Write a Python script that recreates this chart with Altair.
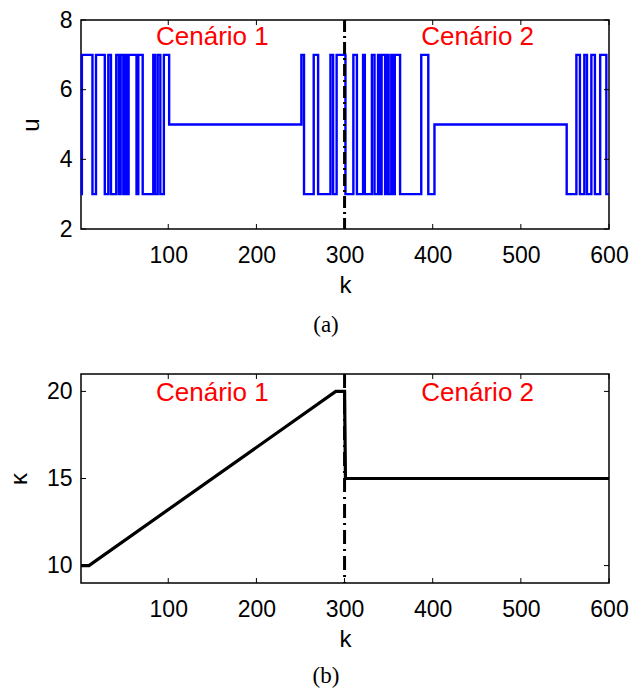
import altair as alt
import pandas as pd

# ---- data ----
# top panel: step input u(k) -> change points (k) and the level held from there
u_k = [1, 2, 14, 18, 28, 32, 35, 41, 44, 46, 49, 51, 53, 55, 64, 66, 71, 83, 85, 88, 91, 95, 101,
       251, 254, 265, 270, 284, 287, 291, 301, 310, 314, 321, 323, 331, 334, 338, 340, 342, 346,
       348, 350, 353, 355, 357, 363, 387, 395, 402, 552, 563, 567, 572, 575, 580, 584, 590, 597, 600]
u_val = [3, 7, 3, 7, 3, 7, 3, 7, 3, 7, 3, 7, 3, 7, 3, 7, 3, 7, 3, 7, 3, 7, 5,
         7, 3, 7, 3, 7, 3, 7, 3, 7, 3, 7, 3, 7, 3, 7, 3, 7, 3,
         7, 3, 7, 3, 7, 3, 7, 3, 5, 3, 7, 3, 7, 3, 7, 3, 7, 3, 3]

# bottom panel: kappa(k)
kappa_k = [1, 10, 290, 300, 301, 600]
kappa_val = [10, 10, 20, 20, 15, 15]

x_ticks = [100, 200, 300, 400, 500, 600]
u_ticks = [2, 4, 6, 8]
kappa_ticks = [10, 15, 20]

scenario_labels = ["Cenário 1", "Cenário 2"]
scenario_k = [150, 451]
scenario_u = [7.5, 7.5]
scenario_kappa = [19.9, 19.9]
switch_k = 300

W, H = 528, 209
FONT = "Liberation Sans"
PLOT_LEFT = 80


def panel(k, vals, ydomain, yticks, ytitle, title_x, color, width, interp,
          text_y, caption, dash, cap_offset):
    xs = alt.Scale(domain=[1, 600], nice=False, zero=False)
    ys = alt.Scale(domain=ydomain, nice=False, zero=False)
    xa = alt.Axis(values=x_ticks, title="k", ticks=False, tickSize=0, domain=False,
                  grid=False, labelFont=FONT, labelFontSize=23, labelColor="black",
                  labelPadding=15, titleFont=FONT, titleFontSize=24,
                  titleFontWeight="normal", titleColor="black", titlePadding=6,
                  labelFlush=False)
    ya = alt.Axis(values=yticks, title=ytitle, ticks=False, tickSize=0, domain=False,
                  grid=False, labelFont=FONT, labelFontSize=23, labelColor="black",
                  labelPadding=9, titleFont=FONT, titleFontSize=24,
                  titleFontWeight="normal", titleColor="black",
                  titleX=title_x, titleBaseline="alphabetic", labelFlush=False)
    X = lambda f: alt.X(f, scale=xs, axis=xa)
    Y = lambda f: alt.Y(f, scale=ys, axis=ya)

    df = pd.DataFrame({"k": k, "v": vals, "i": list(range(len(k)))})
    line = alt.Chart(df).mark_line(color=color, strokeWidth=width,
                                   interpolate=interp).encode(
        x=X("k:Q"), y=Y("v:Q"), order="i:Q")

    rule_df = pd.DataFrame({"k": [switch_k], "v": [ydomain[1]], "v2": [ydomain[0]]})
    rule = alt.Chart(rule_df).mark_rule(color="black", strokeWidth=3,
                                        strokeDash=dash).encode(
        x=X("k:Q"), y=Y("v:Q"), y2="v2:Q")

    txt_df = pd.DataFrame({"k": scenario_k, "v": text_y, "t": scenario_labels})
    txt = alt.Chart(txt_df).mark_text(font=FONT, fontSize=26, color="#ff0000").encode(
        x=X("k:Q"), y=Y("v:Q"), text="t:N")

    xt = pd.DataFrame({"k": x_ticks})
    yt = pd.DataFrame({"v": yticks})
    tb = alt.Chart(xt).mark_rule(color="black", strokeWidth=1).encode(
        x=X("k:Q"), y=alt.value(H), y2=alt.value(H - 5))
    tt = alt.Chart(xt).mark_rule(color="black", strokeWidth=1).encode(
        x=X("k:Q"), y=alt.value(0), y2=alt.value(5))
    tl = alt.Chart(yt).mark_rule(color="black", strokeWidth=1).encode(
        y=Y("v:Q"), x=alt.value(0), x2=alt.value(5))
    tr = alt.Chart(yt).mark_rule(color="black", strokeWidth=1).encode(
        y=Y("v:Q"), x=alt.value(W), x2=alt.value(W - 5))

    return alt.layer(line, rule, txt, tb, tt, tl, tr).properties(
        width=W, height=H,
        title=alt.TitleParams(caption, orient="bottom", font="Liberation Serif",
                              fontSize=23, fontWeight="normal", color="black",
                              anchor="middle", frame="group", dx=-19, offset=cap_offset))


top = panel(u_k, u_val, [2, 8], u_ticks, "u", 37 - PLOT_LEFT, "#0000ff", 2.4,
            "step-after", scenario_u, "(a)", [12, 4, 2, 4], 17)
bottom = panel(kappa_k, kappa_val, [9, 21], kappa_ticks, "κ", 25 - PLOT_LEFT, "black", 3.2,
               "linear", scenario_kappa, "(b)", [14, 5, 2, 5], 14)

chart = alt.vconcat(top, bottom, spacing=33).properties(
    padding={"left": 6, "top": 8, "right": 0, "bottom": 0},
    background="white",
).configure_view(stroke="black", strokeWidth=1.5)

chart.save("out.html", embed_options={"renderer": "svg", "actions": False})
